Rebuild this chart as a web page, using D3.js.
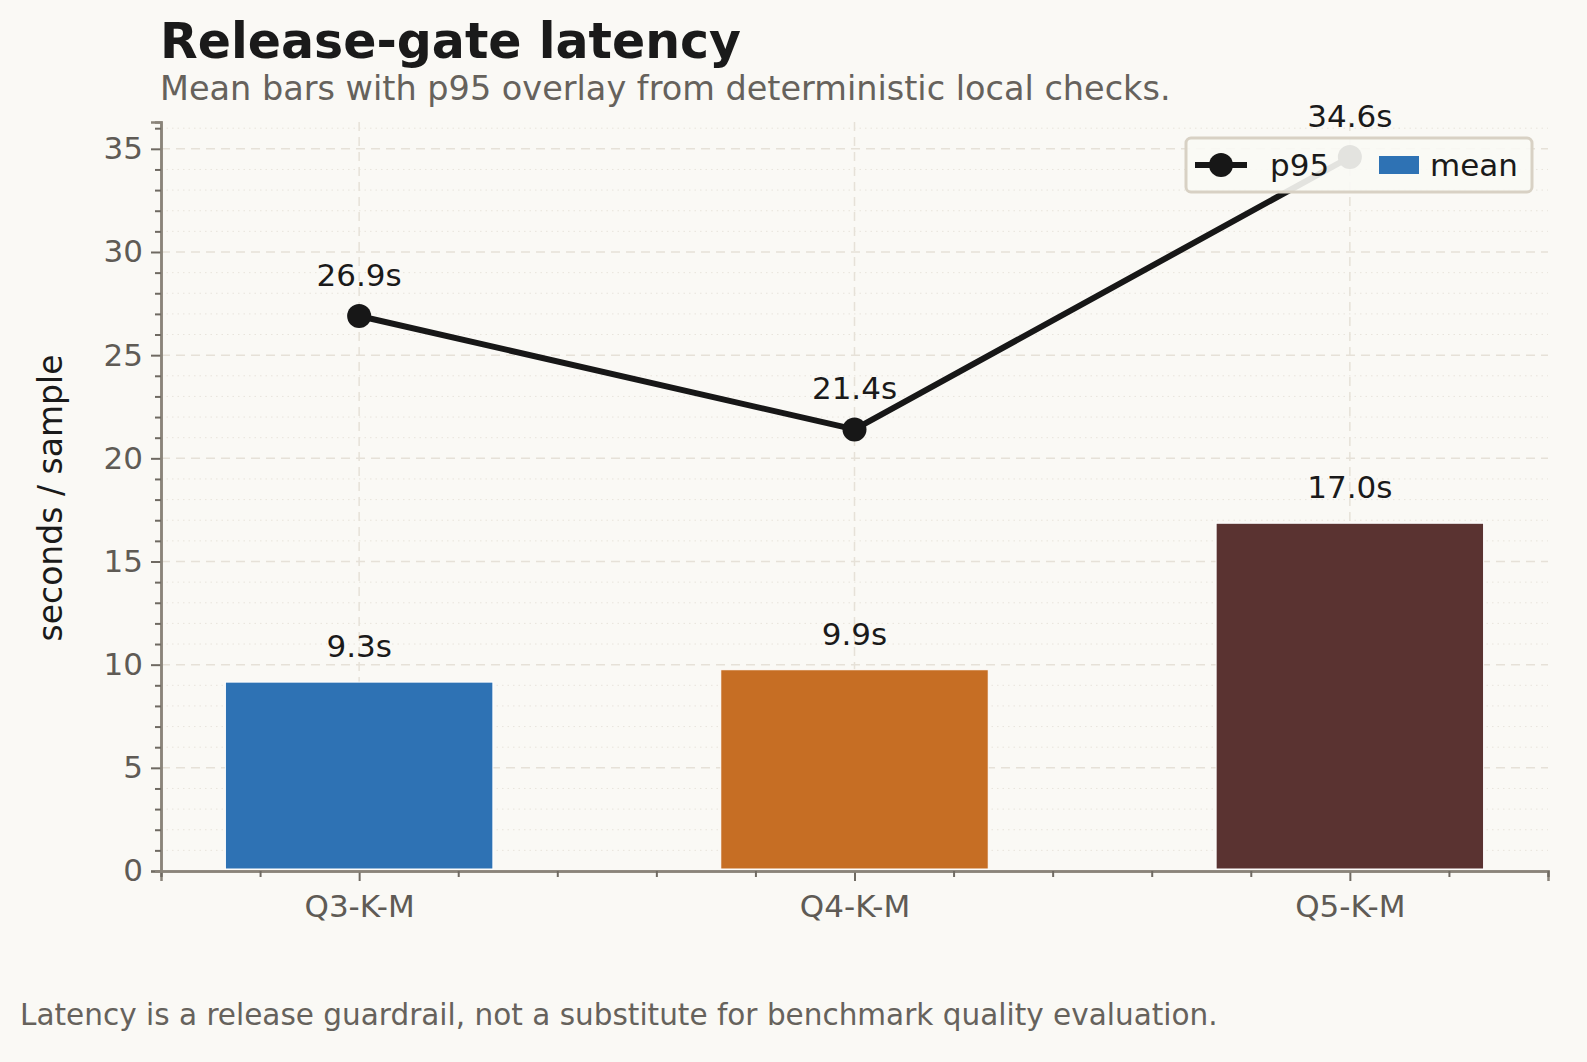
<!DOCTYPE html><html><head><meta charset="utf-8">
<script src="https://cdn.jsdelivr.net/npm/d3@7"></script>
<style>body{margin:0;background:#faf9f5;font-family:"DejaVu Sans",sans-serif;}</style></head><body>
<svg id="c" width="1587" height="1062"></svg>
<script>
const categories=["Q3-K-M","Q4-K-M","Q5-K-M"];
const meanValues=[9.3,9.9,17.0];
const p95Values=[26.9,21.4,34.6];
const barColors=["#2e72b4","#c66e24","#5a3331"];
const yTicks=[0,5,10,15,20,25,30,35];

const svg=d3.select("#c");
svg.append("rect").attr("width",1587).attr("height",1062).attr("fill","#faf9f5");
const x=d3.scaleLinear().domain([-0.4,2.4]).range([161,1548]);
const y=d3.scaleLinear().domain([0,36.3]).range([871,122]);
const g=svg.append("g");
d3.range(1,37).filter(v=>v%5!==0).forEach(v=>g.append("line").attr("x1",161).attr("x2",1548).attr("y1",y(v)).attr("y2",y(v)).attr("stroke","#e8e4dc").attr("stroke-width",1).attr("stroke-dasharray","1.5,4"));
yTicks.filter(v=>v>0).forEach(v=>g.append("line").attr("x1",161).attr("x2",1548).attr("y1",y(v)).attr("y2",y(v)).attr("stroke","#e6e1d8").attr("stroke-width",1.5).attr("stroke-dasharray","9,6"));
categories.forEach((c,i)=>g.append("line").attr("x1",x(i)).attr("x2",x(i)).attr("y1",122).attr("y2",871).attr("stroke","#e6e1d8").attr("stroke-width",1.5).attr("stroke-dasharray","9,6"));
const bw=x(0.27)-x(0);
categories.forEach((c,i)=>{
 g.append("rect").attr("x",x(i)-bw).attr("width",2*bw).attr("y",y(meanValues[i])+3).attr("height",y(0)-y(meanValues[i])-5).attr("fill",barColors[i]).attr("stroke","#fff").attr("stroke-width",1);
 g.append("text").attr("x",x(i)).attr("y",y(meanValues[i])-22).attr("text-anchor","middle").attr("font-size",31).attr("fill","#1a1a1a").text(meanValues[i].toFixed(1)+"s");
});
g.append("path").datum(p95Values).attr("d",d3.line().x((d,i)=>x(i)).y(d=>y(d))).attr("fill","none").attr("stroke","#171717").attr("stroke-width",6);
p95Values.forEach((v,i)=>{
 g.append("circle").attr("cx",x(i)).attr("cy",y(v)).attr("r",12).attr("fill","#171717");
 g.append("text").attr("x",x(i)).attr("y",y(v)-30).attr("text-anchor","middle").attr("font-size",31).attr("fill","#1a1a1a").text(v.toFixed(1)+"s");
});
const ax=svg.append("g").attr("transform","translate(0,871)").call(d3.axisBottom(x).tickValues([0,1,2]).tickFormat(i=>categories[i]).tickSize(10).tickPadding(14));
ax.selectAll("text").attr("font-size",31).attr("fill","#5f5b55").attr("font-family","DejaVu Sans");
const axm=svg.append("g").attr("transform","translate(0,871)").call(d3.axisBottom(x).tickValues(d3.range(-0.4,2.41,0.2).filter(v=>Math.abs(v-Math.round(v))>0.05)).tickFormat("").tickSize(6));
const ay=svg.append("g").attr("transform","translate(161,0)").call(d3.axisLeft(y).tickValues(yTicks).tickSize(10).tickPadding(8));
ay.selectAll("text").attr("font-size",31).attr("fill","#5f5b55").attr("font-family","DejaVu Sans");
const aym=svg.append("g").attr("transform","translate(161,0)").call(d3.axisLeft(y).tickValues(d3.range(1,37).filter(v=>v%5!==0)).tickFormat("").tickSize(6));
[ax,axm,ay,aym].forEach(a=>{a.selectAll("path").attr("stroke","#8a847a").attr("stroke-width",2.5);a.selectAll("line").attr("stroke","#6f6a62").attr("stroke-width",2);});
const lg=svg.append("g");
lg.append("rect").attr("x",1186).attr("y",138).attr("width",346).attr("height",54).attr("rx",5).attr("fill","#faf9f5").attr("fill-opacity",0.9).attr("stroke","#d8d1c4").attr("stroke-width",3);
lg.append("line").attr("x1",1195).attr("x2",1247).attr("y1",165).attr("y2",165).attr("stroke","#171717").attr("stroke-width",6);
lg.append("circle").attr("cx",1221).attr("cy",165).attr("r",12).attr("fill","#171717");
lg.append("text").attr("x",1270).attr("y",176).attr("font-size",31).attr("fill","#1a1a1a").text("p95");
lg.append("rect").attr("x",1379).attr("y",156).attr("width",40).attr("height",18).attr("fill","#2e72b4");
lg.append("text").attr("x",1430).attr("y",176).attr("font-size",31).attr("fill","#1a1a1a").text("mean");
svg.append("text").attr("x",160).attr("y",58).attr("font-size",49).attr("font-weight","bold").attr("fill","#1a1a1a").text("Release-gate latency");
svg.append("text").attr("x",160).attr("y",100).attr("font-size",33.5).attr("fill","#66625c").text("Mean bars with p95 overlay from deterministic local checks.");
svg.append("text").attr("transform","translate(62,498) rotate(-90)").attr("text-anchor","middle").attr("font-size",33).attr("fill","#1a1a1a").text("seconds / sample");
svg.append("text").attr("x",20).attr("y",1025).attr("font-size",29.5).attr("fill","#66625c").text("Latency is a release guardrail, not a substitute for benchmark quality evaluation.");
</script></body></html>
